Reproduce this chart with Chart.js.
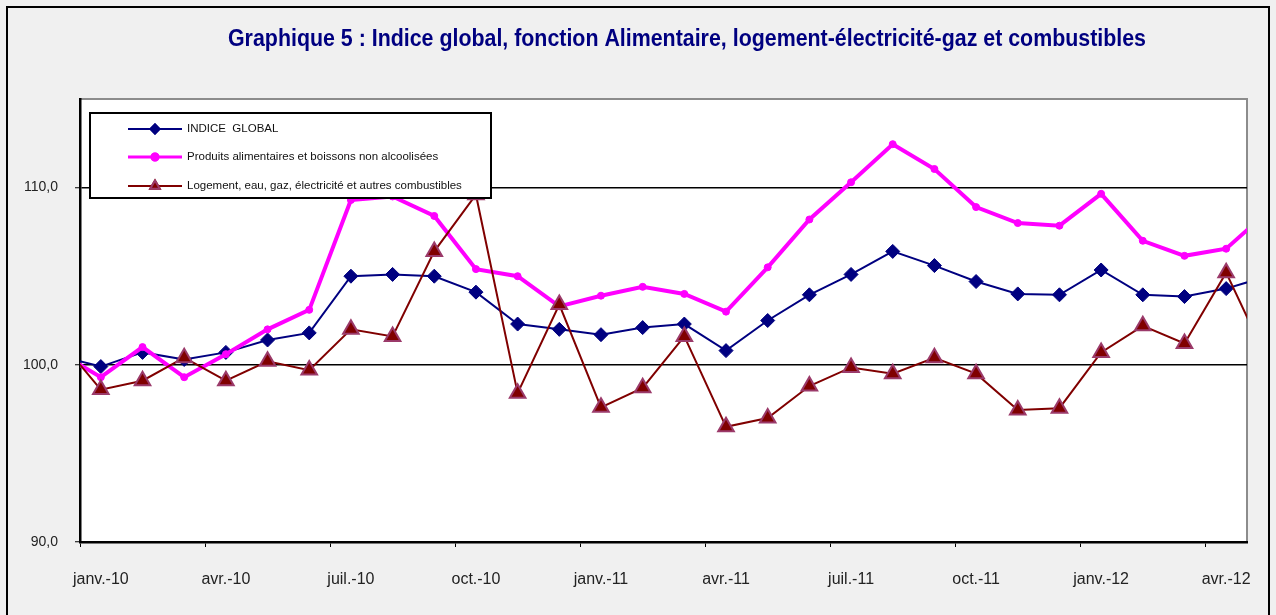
<!DOCTYPE html>
<html lang="fr">
<head>
<meta charset="utf-8">
<title>Graphique 5</title>
<script src="https://cdn.jsdelivr.net/npm/chart.js@4.4.0/dist/chart.umd.min.js"></script>
<style>
    html, body { margin: 0; padding: 0; background: #ffffff; }
    #wrap { position: relative; width: 1276px; height: 615px; }
</style>
</head>
<body>
<div id="wrap"><canvas id="indiceChart"></canvas></div>
<script>
// Mois de déc.-09 à mai-12 (le premier et le dernier sont coupés par le bord du graphique)
const mois = ['déc.-09',
    'janv.-10', 'févr.-10', 'mars-10', 'avr.-10', 'mai-10', 'juin-10', 'juil.-10', 'août-10', 'sept.-10', 'oct.-10', 'nov.-10', 'déc.-10',
    'janv.-11', 'févr.-11', 'mars-11', 'avr.-11', 'mai-11', 'juin-11', 'juil.-11', 'août-11', 'sept.-11', 'oct.-11', 'nov.-11', 'déc.-11',
    'janv.-12', 'févr.-12', 'mars-12', 'avr.-12', 'mai-12'];

const indiceGlobal = [100.5,
    99.9, 100.7, 100.3, 100.7, 101.4, 101.8, 105.0, 105.1, 105.0, 104.1, 102.3, 102.0,
    101.7, 102.1, 102.3, 100.8, 102.5, 103.95, 105.1, 106.4, 105.6, 104.7, 104.0, 103.95,
    105.35, 103.95, 103.85, 104.3, 105.0];

const alimentaire = [100.7,
    99.3, 101.0, 99.3, 100.6, 102.0, 103.1, 109.3, 109.5, 108.4, 105.4, 105.0, 103.3,
    103.9, 104.4, 104.0, 103.0, 105.5, 108.2, 110.3, 112.45, 111.05, 108.9, 108.0, 107.85,
    109.65, 107.0, 106.15, 106.55, 108.65];

const logement = [101.4,
    98.6, 99.1, 100.4, 99.1, 100.2, 99.7, 102.0, 101.6, 106.4, 109.6, 98.4, 103.4,
    97.6, 98.7, 101.6, 96.5, 97.0, 98.8, 99.85, 99.5, 100.4, 99.5, 97.45, 97.55,
    100.7, 102.2, 101.2, 105.2, 100.2];

// Axe des abscisses : une graduation tous les trois mois
const xTickPos = [-0.5, 2.5, 5.5, 8.5, 11.5, 14.5, 17.5, 20.5, 23.5, 26.5];
const xTickLabels = ['janv.-10', 'avr.-10', 'juil.-10', 'oct.-10', 'janv.-11', 'avr.-11', 'juil.-11', 'oct.-11', 'janv.-12', 'avr.-12'];
const yTicks = [90, 100, 110];

const titre = 'Graphique 5 : Indice global, fonction Alimentaire, logement-électricité-gaz et combustibles';
const legendeLabels = ['INDICE  GLOBAL', 'Produits alimentaires et boissons non alcoolisées', 'Logement, eau, gaz, électricité et autres combustibles'];

let indiceChart;

document.addEventListener('DOMContentLoaded', function() {
    createChart();
});

function toPoints(values) {
    // janv.-10 = 0, donc déc.-09 = -1
    return values.map((v, i) => ({ x: i - 1, y: v }));
}

const frameBackground = {
    id: 'frameBackground',
    beforeDraw(chart) {
        const ctx = chart.ctx;
        const area = chart.chartArea;
        ctx.save();
        ctx.fillStyle = '#f0f0f0';
        ctx.fillRect(0, 0, chart.width, chart.height);
        ctx.strokeStyle = '#000000';
        ctx.lineWidth = 2;
        ctx.strokeRect(7, 7, 1262, chart.height + 10);
        ctx.fillStyle = '#ffffff';
        ctx.fillRect(area.left, area.top, area.right - area.left, area.bottom - area.top);
        // bord haut et droit de la zone de traçage
        ctx.strokeStyle = '#8c8c8c';
        ctx.lineWidth = 2;
        ctx.beginPath();
        ctx.moveTo(area.left, area.top);
        ctx.lineTo(area.right, area.top);
        ctx.lineTo(area.right, area.bottom);
        ctx.stroke();

        // titre, resserré comme dans l'original
        ctx.font = 'bold 23px "Liberation Sans", Arial, sans-serif';
        const w = ctx.measureText(titre).width;
        const target = 918;
        ctx.translate(687, 46);
        ctx.scale(target / w, 1);
        ctx.fillStyle = '#000080';
        ctx.textAlign = 'center';
        ctx.textBaseline = 'alphabetic';
        ctx.fillText(titre, 0, 0);
        ctx.restore();
    }
};

const boxLegend = {
    id: 'boxLegend',
    afterDraw(chart) {
        const ctx = chart.ctx;
        ctx.save();
        ctx.fillStyle = '#ffffff';
        ctx.fillRect(90, 113, 401, 85);
        ctx.strokeStyle = '#000000';
        ctx.lineWidth = 2;
        ctx.strokeRect(90, 113, 401, 85);

        const rows = [129, 157, 186];
        chart.data.datasets.forEach((ds, i) => {
            const y = rows[i];
            ctx.strokeStyle = ds.borderColor;
            ctx.lineWidth = i === 1 ? 3 : 2;
            ctx.beginPath();
            ctx.moveTo(128, y);
            ctx.lineTo(182, y);
            ctx.stroke();
            const r = i === 0 ? 4.5 : (i === 1 ? 3 : 5.5);
            Chart.helpers.drawPoint(ctx, {
                pointStyle: ds.pointStyle,
                radius: r,
                borderWidth: 1
            }, 155, y);
            ctx.fillStyle = ds.pointBackgroundColor;
            ctx.strokeStyle = ds.pointBorderColor;
            ctx.fill();
            ctx.stroke();

            ctx.fillStyle = '#111111';
            ctx.font = '11.5px "Liberation Sans", Arial, sans-serif';
            ctx.textAlign = 'left';
            ctx.textBaseline = 'middle';
            ctx.fillText(legendeLabels[i], 187, y);
        });
        ctx.restore();
    }
};

function createChart() {
    const el = document.getElementById('indiceChart');
    if (!el) {
        console.error('Canvas not found');
        return;
    }

    Chart.defaults.font.family = '"Liberation Sans", Arial, sans-serif';
    Chart.defaults.color = '#222222';

    indiceChart = new Chart(el.getContext('2d'), {
        type: 'line',
        data: {
            datasets: [{
                label: legendeLabels[0],
                data: toPoints(indiceGlobal),
                borderColor: '#000080',
                backgroundColor: '#000080',
                pointBackgroundColor: '#000080',
                pointBorderColor: '#000080',
                borderWidth: 2,
                pointStyle: 'rectRot',
                pointRadius: 7,
                pointBorderWidth: 1,
                order: 2,
                clip: 0
            }, {
                label: legendeLabels[1],
                data: toPoints(alimentaire),
                borderColor: '#ff00ff',
                backgroundColor: '#ff00ff',
                pointBackgroundColor: '#ff00ff',
                pointBorderColor: '#ff00ff',
                borderWidth: 4,
                pointStyle: 'circle',
                pointRadius: 3.5,
                pointBorderWidth: 1,
                order: 1,
                clip: 0
            }, {
                label: legendeLabels[2],
                data: toPoints(logement),
                borderColor: '#800000',
                backgroundColor: '#800000',
                pointBackgroundColor: '#800000',
                pointBorderColor: '#9b3a6a',
                borderWidth: 2,
                pointStyle: 'triangle',
                pointRadius: 9,
                pointBorderWidth: 2,
                order: 0,
                clip: 0
            }]
        },
        options: {
            responsive: true,
            maintainAspectRatio: false,
            animation: false,
            layout: {
                padding: { top: 99, right: 29, left: 0, bottom: 0 }
            },
            plugins: {
                legend: { display: false },
                title: { display: false },
                tooltip: { enabled: false }
            },
            elements: {
                line: { tension: 0 }
            },
            scales: {
                x: {
                    type: 'linear',
                    min: -0.5,
                    max: 27.5,
                    afterFit: function(scale) { scale.height = 73; },
                    afterBuildTicks: function(scale) {
                        scale.ticks = xTickPos.map(v => ({ value: v }));
                    },
                    border: { color: '#000000', width: 2.5 },
                    grid: {
                        drawOnChartArea: false,
                        drawTicks: true,
                        tickLength: 5,
                        tickColor: '#000000',
                        tickWidth: 1
                    },
                    ticks: {
                        autoSkip: false,
                        maxRotation: 0,
                        padding: 23,
                        labelOffset: 20.85,
                        color: '#222222',
                        font: { size: 16 },
                        callback: function(value, index) {
                            return xTickLabels[index];
                        }
                    }
                },
                y: {
                    min: 90,
                    max: 115,
                    afterFit: function(scale) { scale.width = 80; },
                    afterBuildTicks: function(scale) {
                        scale.ticks = yTicks.map(v => ({ value: v }));
                    },
                    border: { color: '#000000', width: 2.5 },
                    grid: {
                        color: '#000000',
                        lineWidth: 1.5,
                        drawTicks: true,
                        tickLength: 5,
                        tickColor: '#000000',
                        tickWidth: 1
                    },
                    ticks: {
                        padding: 17,
                        color: '#222222',
                        font: { size: 14 },
                        callback: function(value) {
                            return value.toFixed(1).replace('.', ',');
                        }
                    }
                }
            }
        },
        plugins: [frameBackground, boxLegend]
    });

    console.log('Chart created');
}
</script>
</body>
</html>
